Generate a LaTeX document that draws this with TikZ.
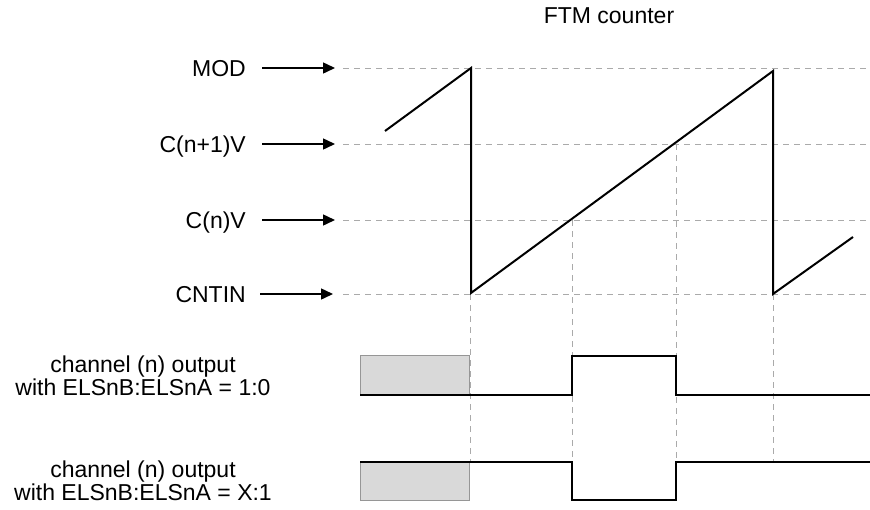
\documentclass[tikz,border=0pt]{standalone}
\usepackage{fontspec}
\setmainfont{Liberation Sans}
\usetikzlibrary{arrows.meta}
\definecolor{gridgray}{RGB}{170,170,170}
\definecolor{boxfill}{RGB}{217,217,217}
\definecolor{boxline}{RGB}{150,150,150}
\begin{document}
\begin{tikzpicture}[x=1pt,y=-1pt,
  lbl/.style={inner sep=0pt,font=\fontsize{23}{23}\selectfont},
  guide/.style={gridgray,line width=1pt,dash pattern=on 6pt off 5pt},
  levelarrow/.style={line width=1.5pt,-{Triangle[length=12pt,width=11pt]}},
  signal/.style={line width=2pt,line join=miter},
  initbox/.style={fill=boxfill,draw=boxline,line width=1pt}]
\useasboundingbox (0,0) rectangle (870,509);
% title
\node[lbl,anchor=base] (title) at (609,23) {FTM counter};
% level labels
\node[lbl,anchor=base east] (mod) at (246,76) {MOD};
\node[lbl,anchor=base east] (cn1) at (246,152) {C(n+1)V};
\node[lbl,anchor=base east] (cn) at (246,228) {C(n)V};
\node[lbl,anchor=base east] (cnt) at (246,302) {CNTIN};
% arrow coordinates
\coordinate (modA) at (262,68); \coordinate (modB) at (335,68);
\coordinate (cn1A) at (262,144); \coordinate (cn1B) at (335,144);
\coordinate (cnA) at (262,220); \coordinate (cnB) at (335,220);
\coordinate (cntA) at (260,294); \coordinate (cntB) at (333,294);
% horizontal guides
\coordinate (modE) at (870,68);
\coordinate (cn1E) at (870,144);
\coordinate (cnE) at (870,220);
\coordinate (cntE) at (870,294);
\draw[guide] (343,68) -- (modE);
\draw[guide] (343,144) -- (cn1E);
\draw[guide] (343,220) -- (cnE);
\draw[guide] (343,294) -- (cntE);
% vertical guides
\draw[guide] (470,294) -- (470,462);
\draw[guide] (572,220) -- (572,462);
\draw[guide] (676,144) -- (676,462);
\draw[guide] (773,294) -- (773,462);
% arrows
\draw[levelarrow] (modA) -- (modB);
\draw[levelarrow] (cn1A) -- (cn1B);
\draw[levelarrow] (cnA) -- (cnB);
\draw[levelarrow] (cntA) -- (cntB);
% sawtooth
\draw[signal] (385,131) -- (471,68) -- (471,293) -- (773,71) -- (773,294) -- (853,237);
% channel labels
\node[lbl,anchor=base,align=center] (ch1a) at (143,372) {channel (n) output};
\node[lbl,anchor=base] (ch1b) at (143,395) {with ELSnB:ELSnA = 1:0};
\node[lbl,anchor=base] (ch2a) at (143,477) {channel (n) output};
\node[lbl,anchor=base] (ch2b) at (143,500) {with ELSnB:ELSnA = X:1};
% initial boxes
\draw[initbox] (360,355) rectangle (469,395);
\draw[initbox] (360,462) rectangle (469,500);
% waveforms
\draw[signal] (360,395) -- (572,395) -- (572,356) -- (676,356) -- (676,395) -- (870,395);
\draw[signal] (360,462) -- (572,462) -- (572,500) -- (676,500) -- (676,462) -- (870,462);
\end{tikzpicture}
\end{document}
